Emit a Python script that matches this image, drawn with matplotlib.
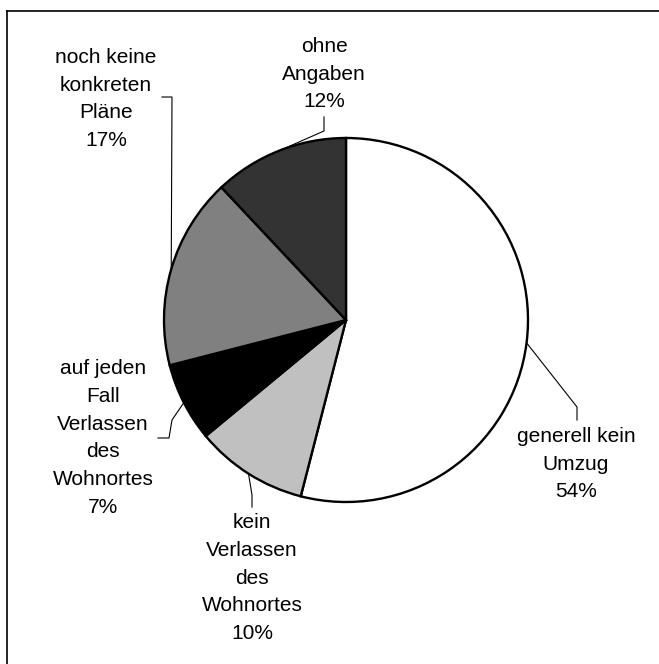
import numpy as np
import matplotlib
matplotlib.use("Agg")
import matplotlib.pyplot as plt
from matplotlib.lines import Line2D

categories = ["generell kein\nUmzug", "kein\nVerlassen\ndes\nWohnortes",
              "auf jeden\nFall\nVerlassen\ndes\nWohnortes", "noch keine\nkonkreten\nPläne",
              "ohne\nAngaben"]
values = [54, 10, 7, 17, 12]
colors = ["#FFFFFF", "#C0C0C0", "#000000", "#808080", "#333333"]

W, H = 659, 664
fig = plt.figure(figsize=(W / 100, H / 100), dpi=100)
ax = fig.add_axes([0, 0, 1, 1])

def P(x, y):
    # pixel (from top-left) -> data coords
    return x, H - y

cx, cy = P(346, 320)
R = 182
wedges, _ = ax.pie(values, colors=colors, startangle=90, counterclock=False,
                   center=(cx, cy), radius=R, frame=True,
                   wedgeprops=dict(edgecolor="black", linewidth=1.7))
ax.set_xlim(0, W)
ax.set_ylim(0, H)
ax.set_aspect("equal")
ax.axis("off")

# label layout (pixel positions) and leader elbows
label_pos = [(576, 464), (252, 578), (103, 438), (106, 99), (324, 74)]
elbows = [
    [(577, 407), (577, 420)],
    [(252, 495), (252, 507)],
    [(172, 420), (169, 438), (158, 438)],
    [(172, 97), (162, 97)],
    [(324, 131), (324, 117)],
]

for w, cat, v, lp, el in zip(wedges, categories, values, label_pos, elbows):
    mid = np.deg2rad((w.theta1 + w.theta2) / 2)
    ax_x = cx + R * np.cos(mid)
    ax_y = cy + R * np.sin(mid)
    xs = [ax_x] + [P(*e)[0] for e in el]
    ys = [ax_y] + [P(*e)[1] for e in el]
    ax.plot(xs, ys, color="black", lw=0.8, solid_joinstyle="miter")
    tx, ty = P(*lp)
    ax.text(tx, ty, f"{cat}\n{v}%", ha="center", va="center", multialignment="center",
            fontsize=15, family=["Liberation Sans", "DejaVu Sans"], linespacing=1.58)

# outer frame (top and left edges visible)
fig.add_artist(Line2D([7 / W, 1.0], [1 - 11 / H, 1 - 11 / H], color="black", lw=1.2,
                      transform=fig.transFigure))
fig.add_artist(Line2D([7 / W, 7 / W], [0.0, 1 - 11 / H], color="black", lw=1.2,
                      transform=fig.transFigure))

fig.savefig("out.png", dpi=100, facecolor="white")
